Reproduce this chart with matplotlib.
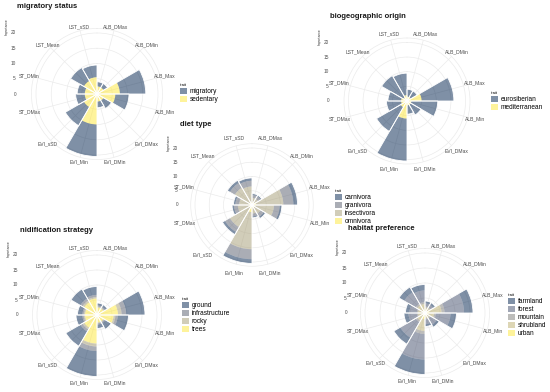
import numpy as np
import matplotlib.pyplot as plt
from matplotlib.patches import Patch

plt.rcParams['font.family'] = ['Liberation Sans', 'DejaVu Sans']

# predictor variables, clockwise from the top
variables = ["ALB_DMax", "ALB_DMin", "ALB_Max", "ALB_Min", "EVI_DMax", "EVI_DMin",
             "EVI_Min", "EVI_sSD", "ST_DMax", "ST_DMin", "LST_Mean", "LST_sSD"]
radial_ticks = [0, 5, 10, 15, 20]

# migratory status (first level = outermost ring)
migratory_levels = ["migratory", "sedentary"]
migratory = [1.5, 1.5, 8.5, 4.5, 3.0, 2.0, 10.5, 7.0, 3.0, 2.5, 5.0, 4.0]
sedentary = [2.5, 2.5, 7.5, 6.0, 2.5, 2.5, 10.0, 5.0, 4.0, 4.0, 5.0, 5.5]

# biogeographic origin
biogeo_levels = ["eurosiberian", "mediterranean"]
eurosiberian = [2.5, 2.5, 11.0, 9.0, 4.0, 3.0, 14.5, 9.5, 5.0, 4.5, 8.5, 7.5]
mediterranean = [1.5, 1.5, 5.0, 1.5, 1.5, 1.5, 6.0, 2.5, 2.0, 2.0, 1.5, 2.0]

# diet type
diet_levels = ["carnivora", "granivora", "insectivora", "omnivora"]
carnivora = [0.5, 0.5, 1.5, 0.8, 0.7, 0.5, 1.5, 1.0, 0.7, 0.7, 1.0, 1.0]
granivora = [1.0, 1.0, 3.5, 2.0, 1.3, 1.0, 3.5, 2.0, 1.3, 1.3, 2.0, 2.0]
insectivora = [1.5, 1.5, 9.5, 6.7, 2.5, 2.0, 13.0, 8.0, 4.0, 3.5, 6.0, 5.5]
omnivora = [1.0, 1.0, 1.5, 1.0, 1.0, 1.0, 2.5, 1.0, 1.0, 1.0, 1.0, 1.0]

# nidification strategy
nest_levels = ["ground", "infrastructure", "rocky", "trees"]
ground = [0.8, 0.8, 6.3, 3.6, 2.3, 1.3, 8.5, 5.6, 2.1, 1.6, 3.6, 2.8]
infrastructure = [0.4, 0.4, 1.5, 0.8, 0.4, 0.4, 1.5, 0.8, 0.5, 0.5, 0.8, 0.7]
rocky = [0.3, 0.3, 1.2, 0.6, 0.3, 0.3, 1.0, 0.6, 0.4, 0.4, 0.6, 0.5]
trees = [2.5, 2.5, 7.0, 5.5, 2.5, 2.5, 9.5, 5.0, 4.0, 4.0, 5.0, 5.5]

# habitat preference
habitat_levels = ["farmland", "forest", "mountain", "shrubland", "urban"]
farmland = [0.8, 0.8, 3.0, 2.0, 1.0, 0.8, 5.0, 2.5, 1.5, 1.3, 2.0, 2.0]
forest = [1.0, 1.0, 6.5, 4.9, 2.3, 1.5, 8.5, 5.9, 2.8, 2.5, 4.4, 3.9]
mountain = [0.4, 0.4, 1.0, 0.6, 0.4, 0.4, 1.0, 0.6, 0.4, 0.4, 0.6, 0.6]
shrubland = [1.0, 1.0, 4.0, 2.0, 1.0, 1.0, 4.0, 2.0, 1.5, 1.5, 2.0, 2.0]
urban = [0.8, 0.8, 1.5, 1.0, 0.8, 0.8, 2.0, 1.0, 0.8, 0.8, 1.0, 1.0]

W, H = 550, 392
RMAX = 21.5

# title, levels, series, centre(px), px per unit, title pos, legend pos, radial label x
panels = [
    ("migratory status", migratory_levels, [migratory, sedentary],
     (97, 94), 3.05, (17, 7), (180, 83), 16),
    ("biogeographic origin", biogeo_levels, [eurosiberian, mediterranean],
     (407, 101), 2.93, (330, 16), (491, 91), 329),
    ("diet type", diet_levels, [carnivora, granivora, insectivora, omnivora],
     (252, 205), 2.85, (180, 124), (335, 189), 178),
    ("nidification strategy", nest_levels, [ground, infrastructure, rocky, trees],
     (97, 315), 3.0, (20, 230), (182, 297), 18),
    ("habitat preference", habitat_levels, [farmland, forest, mountain, shrubland, urban],
     (425, 313), 3.0, (348, 229), (508, 293), 347),
]

fig = plt.figure(figsize=(5.5, 3.92), dpi=100)
theta = np.deg2rad(15 + 30 * np.arange(len(variables)))
width = np.deg2rad(30)

for title, levels, series, (cx, cy), scale, (tx, ty), (lx, ly), rx in panels:
    R = RMAX * scale
    ax = fig.add_axes([(cx - R) / W, 1 - (cy + R) / H, 2 * R / W, 2 * R / H],
                      projection='polar')
    ax.set_facecolor('none')
    ax.set_theta_zero_location('N')
    ax.set_theta_direction(-1)
    ax.set_axisbelow(True)

    cols = plt.get_cmap('cividis')(np.linspace(0, 1, len(levels)))
    cols[:, 3] = 0.5

    # stack from the last level (inner) to the first (outer)
    bottom = np.zeros(len(variables))
    for vals, c in zip(series[::-1], cols[::-1]):
        ax.bar(theta, vals, width=width, bottom=bottom, color=c,
               edgecolor='none', linewidth=0)
        bottom += np.array(vals)
    # thin white outline around each whole bar
    ax.bar(theta, bottom, width=width, fill=False, edgecolor='white',
           linewidth=0.6)

    ax.set_ylim(0, RMAX)
    ax.set_yticks(radial_ticks[1:])
    ax.set_yticklabels([])
    ax.set_xticks(theta)
    ax.set_xticklabels([])
    ax.grid(color='#ebebeb', linewidth=0.5)
    ax.spines['polar'].set_color('#ebebeb')
    ax.spines['polar'].set_linewidth(0.5)

    for t, lab in zip(theta, variables):
        ax.text(t, 70 / scale, lab, ha='center', va='center', fontsize=3.6,
                color='#4d4d4d', clip_on=False)

    # radial axis labels on the left, as ggplot puts them
    for v in radial_ticks:
        y = ax.transData.transform((0, v))[1]
        fig.text(rx / W, y / H, str(v), ha='right', va='center',
                 fontsize=3.4, color='#4d4d4d')
    y = ax.transData.transform((0, 22))[1]
    fig.text((rx - 9) / W, y / H, "Importance", rotation=90, ha='center',
             va='center', fontsize=2.4, color='#333333')

    fig.text(tx / W, 1 - ty / H, title, ha='left', va='center',
             fontsize=5.5, fontweight='bold', color='#1a1a1a')

    handles = [Patch(facecolor=c, edgecolor='none') for c in cols]
    ax.legend(handles, levels, title='trait', loc='upper left',
              bbox_to_anchor=(lx / W, 1 - ly / H), bbox_transform=fig.transFigure,
              frameon=False, fontsize=4.7, title_fontsize=3,
              handlelength=1.1, handleheight=1.1, labelspacing=0.1,
              handletextpad=0.35, borderpad=0, borderaxespad=0, alignment='left')

fig.savefig('out.png', dpi=100, facecolor='white')
